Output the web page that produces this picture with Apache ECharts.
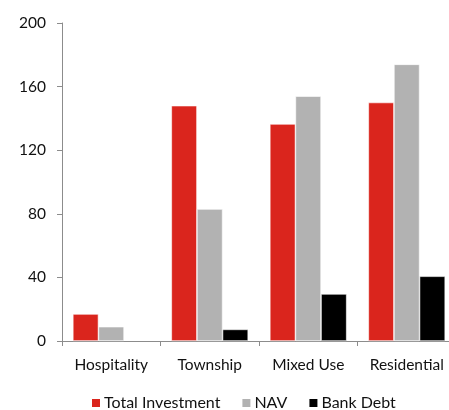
<!DOCTYPE html>
<html><head><meta charset="utf-8">
<script src="https://cdn.jsdelivr.net/npm/echarts@6/dist/echarts.min.js"></script>
<style>html,body{margin:0;padding:0;background:#fff}#c{width:449px;height:410px}</style>
</head><body><div id="c"></div>
<script>
const categories = ['Hospitality', 'Township', 'Mixed Use', 'Residential'];
const totalInvestment = [17, 148, 136.5, 150];
const nav = [9, 83, 154, 174];
const bankDebt = [null, 7.3, 29.6, 40.7];
const yTicks = [0, 40, 80, 120, 160, 200];

const font = 'Lato';
const chart = echarts.init(document.getElementById('c'));
const mk = (name, data, color) => ({
  name, type: 'bar', data, barGap: '0%', barCategoryGap: '22%',
  itemStyle: { color, borderColor: '#ffffff', borderWidth: 0.6 }
});
chart.setOption({
  animation: false,
  textStyle: { fontFamily: font },
  grid: { left: 62, width: 394, top: 23, bottom: 69, containLabel: false, outerBoundsMode: 'none' },
  legend: {
    bottom: -6, left: 85, itemWidth: 10, itemHeight: 10, itemGap: 20,
    icon: 'rect',
    textStyle: { fontFamily: font, fontSize: 16, color: '#111', padding: [0, 0, 0, -2] },
    data: ['Total Investment', 'NAV', 'Bank Debt']
  },
  xAxis: {
    type: 'category', data: categories,
    axisLine: { lineStyle: { color: '#8c8c8c', width: 1 } },
    axisTick: { show: true, alignWithLabel: false, length: 5, lineStyle: { color: '#8c8c8c' } },
    axisLabel: { fontFamily: font, fontSize: 15.5, color: '#111', margin: 16 }
  },
  yAxis: {
    type: 'value', min: yTicks[0], max: yTicks[yTicks.length - 1], interval: 40,
    axisLine: { show: true, lineStyle: { color: '#8c8c8c', width: 1 } },
    axisTick: { show: true, length: 5, lineStyle: { color: '#8c8c8c' } },
    splitLine: { show: false },
    axisLabel: { fontFamily: font, fontSize: 15.5, color: '#111', margin: 16 }
  },
  series: [
    mk('Total Investment', totalInvestment, '#da251d'),
    mk('NAV', nav, '#b2b2b2'),
    mk('Bank Debt', bankDebt, '#000000')
  ]
});
</script></body></html>
